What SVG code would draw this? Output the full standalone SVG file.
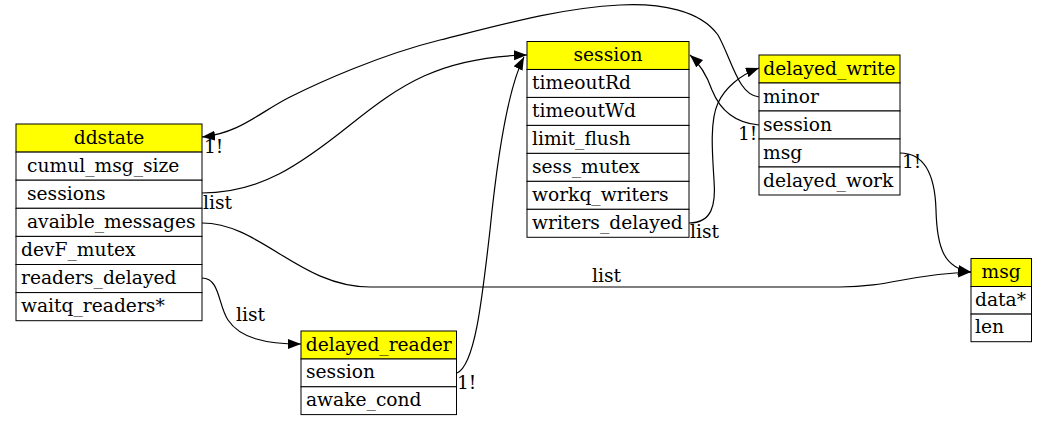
<svg xmlns="http://www.w3.org/2000/svg" width="1047" height="425" viewBox="0 0 1047 425">
<style>
text{font-family:"DejaVu Serif","Liberation Serif",serif;font-size:18.67px;fill:#000}
.h{fill:#ffff00;stroke:#000;stroke-width:1}
.r{fill:#fff;stroke:#000;stroke-width:1}
.c{text-anchor:middle}
.e{fill:none;stroke:#000;stroke-width:1.2;marker-end:url(#ah)}
</style>
<defs>
<marker id="ah" markerUnits="userSpaceOnUse" markerWidth="14" markerHeight="11" refX="13" refY="5" orient="auto">
<path d="M0,0 L13,5 L0,10 z" fill="#000"/>
</marker>
</defs>
<rect width="1047" height="425" fill="#fff"/>
<g id="ddstate">
<rect class="h" x="16" y="124" width="186" height="28.1"/>
<rect class="r" x="16" y="152.1" width="186" height="28.1"/>
<rect class="r" x="16" y="180.2" width="186" height="28.1"/>
<rect class="r" x="16" y="208.3" width="186" height="28.1"/>
<rect class="r" x="16" y="236.4" width="186" height="28.1"/>
<rect class="r" x="16" y="264.5" width="186" height="28.1"/>
<rect class="r" x="16" y="292.6" width="186" height="28.1"/>
<text class="c" x="109" y="143.5">ddstate</text>
<text x="27" y="171.6">cumul_msg_size</text>
<text x="27" y="199.7">sessions</text>
<text x="27" y="227.8">avaible_messages</text>
<text x="21" y="255.9">devF_mutex</text>
<text x="21" y="284">readers_delayed</text>
<text x="21" y="312.1">waitq_readers*</text>
</g>
<g id="session">
<rect class="h" x="527" y="41.5" width="162" height="27.97"/>
<rect class="r" x="527" y="69.47" width="162" height="27.97"/>
<rect class="r" x="527" y="97.44" width="162" height="27.97"/>
<rect class="r" x="527" y="125.41" width="162" height="27.97"/>
<rect class="r" x="527" y="153.38" width="162" height="27.97"/>
<rect class="r" x="527" y="181.35" width="162" height="27.97"/>
<rect class="r" x="527" y="209.32" width="162" height="27.97"/>
<text class="c" x="608" y="61">session</text>
<text x="532" y="89">timeoutRd</text>
<text x="532" y="117">timeoutWd</text>
<text x="532" y="145">limit_flush</text>
<text x="532" y="172.9">sess_mutex</text>
<text x="532" y="200.9">workq_writers</text>
<text x="532" y="228.8">writers_delayed</text>
</g>
<g id="delayed_write">
<rect class="h" x="759" y="55" width="141" height="28"/>
<rect class="r" x="759" y="83" width="141" height="28"/>
<rect class="r" x="759" y="111" width="141" height="28"/>
<rect class="r" x="759" y="139" width="141" height="28"/>
<rect class="r" x="759" y="167" width="141" height="28"/>
<text class="c" x="829.5" y="74.5">delayed_write</text>
<text x="763" y="102.5">minor</text>
<text x="763" y="130.5">session</text>
<text x="763" y="158.5">msg</text>
<text x="763" y="186.5">delayed_work</text>
</g>
<g id="msg">
<rect class="h" x="971" y="258.5" width="60.5" height="28"/>
<rect class="r" x="971" y="286.5" width="60.5" height="27.6"/>
<rect class="r" x="971" y="314.1" width="60.5" height="27.6"/>
<text class="c" x="1001.2" y="278">msg</text>
<text x="975" y="305.8">data*</text>
<text x="975" y="333.4">len</text>
</g>
<g id="delayed_reader">
<rect class="h" x="301" y="331" width="155.5" height="28"/>
<rect class="r" x="301" y="359" width="155.5" height="27.8"/>
<rect class="r" x="301" y="386.8" width="155.5" height="27.8"/>
<text class="c" x="378.7" y="350.5">delayed_reader</text>
<text x="306" y="378.4">session</text>
<text x="306" y="406.2">awake_cond</text>
</g>
<g id="connectors">
<path class="e" d="M759,97 C738,95 732,60 718,35 C700,10 660,3 620,5 C560,8 500,25 440,40 C380,55 320,82 290,97 C260,112 240,133 202,137"/>
<path class="e" d="M759,125 C735,123 720,110 712,90 C707,76 700,64 690,55"/>
<path class="e" d="M202,193 C260,193 300,165 350,125 C400,85 440,57 527,55"/>
<path class="e" d="M202,223 C260,223 300,287 370,287 L840,287 C890,287 910,274 971,272"/>
<path class="e" d="M202,278 C220,278 218,305 228,320 C240,338 265,344 301,344"/>
<path class="e" d="M457,373 C475,365 482,300 490,230 C497,160 507,90 524,57"/>
<path class="e" d="M689,223 C712,223 716,205 714,180 C712,150 710,120 718,103 C725,88 740,75 759,68"/>
<path class="e" d="M900,153 C925,153 935,175 936,210 C937,250 945,268 971,272"/>
<text x="204" y="153">1!</text>
<text x="738" y="140">1!</text>
<text x="203" y="208.5">list</text>
<text x="592" y="281.5">list</text>
<text x="236" y="320.5">list</text>
<text x="457" y="389">1!</text>
<text x="690" y="238">list</text>
<text x="902" y="168">1!</text>
</g>
</svg>
